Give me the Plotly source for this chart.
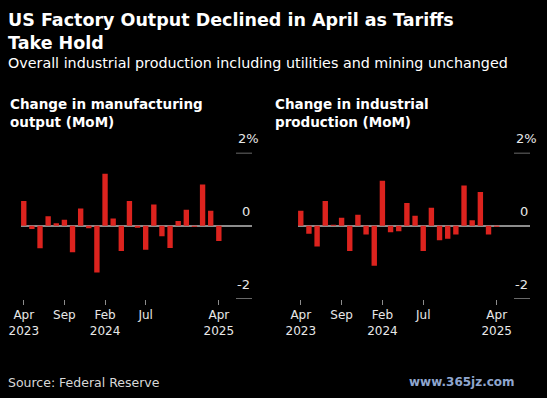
import plotly.graph_objects as go

months = ["2023-04", "2023-05", "2023-06", "2023-07", "2023-08", "2023-09", "2023-10",
          "2023-11", "2023-12", "2024-01", "2024-02", "2024-03", "2024-04", "2024-05",
          "2024-06", "2024-07", "2024-08", "2024-09", "2024-10", "2024-11", "2024-12",
          "2025-01", "2025-02", "2025-03", "2025-04"]

manufacturing = [0.68, -0.09, -0.62, 0.26, 0.07, 0.16, -0.73, 0.47, -0.07, -1.28,
                 1.42, 0.20, -0.69, 0.68, -0.03, -0.66, 0.58, -0.29, -0.61, 0.13,
                 0.44, -0.02, 1.13, 0.41, -0.42]

industrial = [0.41, -0.22, -0.57, 0.68, 0.01, 0.22, -0.69, 0.30, -0.24, -1.10,
              1.23, -0.18, -0.15, 0.62, 0.27, -0.69, 0.49, -0.40, -0.36, -0.24,
              1.10, 0.15, 0.92, -0.24, -0.02]

tick_months = ["2023-04", "2023-09", "2024-02", "2024-07", "2025-04"]
tick_text = ["Apr<br>2023", "Sep", "Feb<br>2024", "Jul", "Apr<br>2025"]

y_ticks = [2, 0, -2]
y_tick_text = ["2%", "0", "-2"]

panel_titles = ["Change in manufacturing<br>output (MoM)",
                "Change in industrial<br>production (MoM)"]

title_text = "US Factory Output Declined in April as Tariffs<br>Take Hold"
subtitle_text = "Overall industrial production including utilities and mining unchanged"
source_text = "Source: Federal Reserve"

RED = "#dc231e"
GREY = "#8c8c8c"
FONT = "DejaVu Sans"
W, H = 547, 398

fig = go.Figure()

panels = [(manufacturing, "x", "y", 21, 252, 8),
          (industrial, "x2", "y2", 298, 530, 273)]

y_dom = [(H - 298.7) / H, (H - 152.7) / H]

for values, xa, ya, left, right, tx in panels:
    fig.add_trace(go.Bar(x=months, y=values, xaxis=xa, yaxis=ya,
                         marker=dict(color=RED, line=dict(width=0)),
                         width=0.66, showlegend=False, hoverinfo="skip"))

for i, (values, xa, ya, left, right, tx) in enumerate(panels):
    suffix = "" if i == 0 else "2"
    fig.layout["xaxis" + suffix] = dict(
        domain=[left / W, right / W], type="category",
        range=[-0.34, 28.08], anchor="y" + suffix, automargin=False,
        tickmode="array", tickvals=tick_months, ticktext=tick_text,
        ticks="outside", ticklen=5, tickwidth=1, tickcolor=GREY,
        showline=False, showgrid=False, zeroline=False,
        tickfont=dict(family=FONT, size=12, color="#e8e8e8"),
    )
    fig.layout["yaxis" + suffix] = dict(
        domain=y_dom, range=[-2, 2], anchor="x" + suffix, automargin=False,
        showticklabels=False, showgrid=False, showline=False, ticks="",
        zeroline=True, zerolinecolor=GREY, zerolinewidth=1.5,
    )
    for v, t in zip(y_ticks, y_tick_text):
        fig.add_annotation(xref=xa + " domain", yref=ya, x=1, y=v,
                           text=t, showarrow=False, xanchor="right", yanchor="middle",
                           yshift=14, xshift=9 if "%" in t else 0,
                           font=dict(family=FONT, size=13, color="#e8e8e8"))
        if v != 0:
            fig.add_shape(type="line", xref=xa + " domain", yref=ya,
                          x0=1 - 16 / (right - left), x1=1, y0=v, y1=v,
                          line=dict(color=GREY, width=1.5))
    fig.add_annotation(xref="paper", yref="paper", x=tx / W, y=1 - 94 / H,
                       text="<b>" + panel_titles[i] + "</b>", showarrow=False,
                       xanchor="left", yanchor="top", align="left",
                       font=dict(family=FONT, size=13.5, color="white"))

fig.add_annotation(xref="paper", yref="paper", x=6 / W, y=1 - 8 / H,
                   text="<b>" + title_text + "</b>", showarrow=False,
                   xanchor="left", yanchor="top", align="left",
                   font=dict(family=FONT, size=17.5, color="white"))
fig.add_annotation(xref="paper", yref="paper", x=6 / W, y=1 - 53 / H,
                   text=subtitle_text, showarrow=False,
                   xanchor="left", yanchor="top", align="left",
                   font=dict(family=FONT, size=14.3, color="white"))
fig.add_annotation(xref="paper", yref="paper", x=6 / W, y=1 - 382 / H,
                   text=source_text, showarrow=False,
                   xanchor="left", yanchor="middle", align="left",
                   font=dict(family=FONT, size=12.5, color="#d8d8d8"))
fig.add_annotation(xref="paper", yref="paper", x=517 / W, y=1 - 382 / H,
                   text="<b>www.365jz.com</b>", showarrow=False,
                   xanchor="right", yanchor="middle",
                   font=dict(family=FONT, size=12, color="#8fa6cf"))

fig.update_layout(
    width=W, height=H, autosize=False,
    margin=dict(l=0, r=0, t=0, b=0, autoexpand=False),
    paper_bgcolor="black", plot_bgcolor="black",
    bargap=0.3, showlegend=False,
)

fig.write_html("out.html", config={"displayModeBar": False},
               post_script="document.body.style.margin='0';document.body.style.overflow='hidden';")
